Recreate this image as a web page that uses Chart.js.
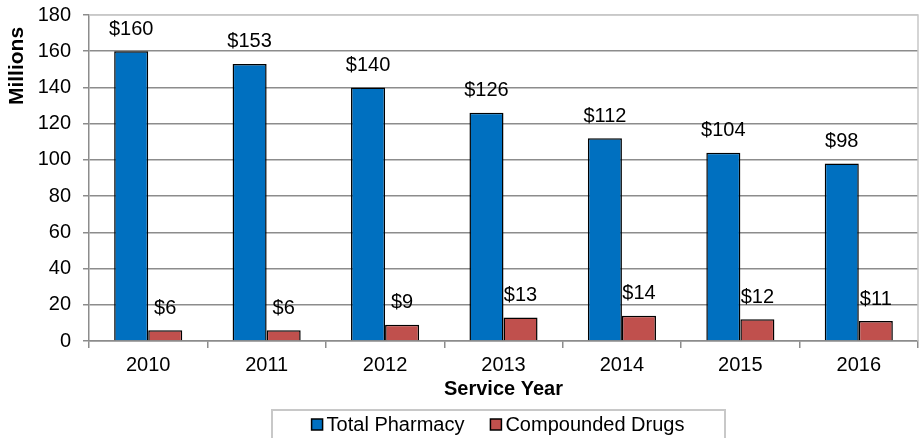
<!DOCTYPE html>
<html>
<head>
<meta charset="utf-8">
<title>Pharmacy spend by service year</title>
<script src="https://cdn.jsdelivr.net/npm/chart.js@4.4.1/dist/chart.umd.min.js"></script>
<style>
  html, body { margin: 0; padding: 0; background: #fff; }
  #wrap { width: 922px; height: 438px; }
</style>
</head>
<body>
<div id="wrap"><canvas id="chart" width="922" height="438"></canvas></div>
<script>
const years = ["2010", "2011", "2012", "2013", "2014", "2015", "2016"];
const totalPharmacy = [160, 153, 140, 126, 112, 104, 98];
const compoundedDrugs = [6, 6, 9, 13, 14, 12, 11];
const yTicks = [0, 20, 40, 60, 80, 100, 120, 140, 160, 180];

const FONT = "'Liberation Sans', Arial, sans-serif";
const GRID = "#8c8c8c";
const FRAME = "#c8c8c8";

// dollar labels over every bar
const barLabels = {
  id: "barLabels",
  afterDatasetsDraw(chart) {
    const ctx = chart.ctx;
    ctx.save();
    ctx.font = "20px " + FONT;
    ctx.fillStyle = "#000";
    ctx.textAlign = "center";
    ctx.textBaseline = "alphabetic";
    chart.data.datasets.forEach((ds, i) => {
      chart.getDatasetMeta(i).data.forEach((bar, j) => {
        ctx.fillText("$" + ds.data[j], bar.x, bar.y - 16.5);
      });
    });
    ctx.restore();
  }
};

// plot frame (top/right), y title and boxed legend
const decorations = {
  id: "decorations",
  afterDraw(chart) {
    const ctx = chart.ctx;
    const a = chart.chartArea;
    ctx.save();

    ctx.strokeStyle = FRAME;
    ctx.lineWidth = 1.5;
    ctx.beginPath();
    ctx.moveTo(a.left, a.top);
    ctx.lineTo(a.right, a.top);
    ctx.lineTo(a.right, a.bottom);
    ctx.stroke();

    ctx.save();
    ctx.translate(17, 66);
    ctx.rotate(-Math.PI / 2);
    ctx.font = "bold 21px " + FONT;
    ctx.fillStyle = "#000";
    ctx.textAlign = "center";
    ctx.textBaseline = "middle";
    ctx.fillText("Millions", 0, 0);
    ctx.restore();

    // legend
    ctx.strokeStyle = FRAME;
    ctx.lineWidth = 2;
    ctx.strokeRect(272, 410, 453, 40);

    ctx.font = "20px " + FONT;
    ctx.textBaseline = "alphabetic";
    ctx.textAlign = "left";
    const box = 11, gap = 4, spacing = 26;
    const items = chart.data.datasets.map(ds => ({
      label: ds.label, color: ds.backgroundColor,
      w: box + gap + ctx.measureText(ds.label).width
    }));
    const total = items.reduce((s, it) => s + it.w, 0) + spacing * (items.length - 1);
    let x = 498 - total / 2;
    items.forEach(it => {
      ctx.fillStyle = it.color;
      ctx.fillRect(x, 419, box, box);
      ctx.strokeStyle = "#000";
      ctx.lineWidth = 1.5;
      ctx.strokeRect(x, 419, box, box);
      ctx.fillStyle = "#000";
      ctx.fillText(it.label, x + box + gap, 431);
      x += it.w + spacing;
    });

    ctx.restore();
  }
};

new Chart(document.getElementById("chart"), {
  type: "bar",
  data: {
    labels: years,
    datasets: [
      {
        label: "Total Pharmacy",
        data: totalPharmacy,
        backgroundColor: "#0070C0",
        borderColor: "#000",
        borderWidth: 1.5,
        borderSkipped: "bottom"
      },
      {
        label: "Compounded Drugs",
        data: compoundedDrugs,
        backgroundColor: "#C0504D",
        borderColor: "#000",
        borderWidth: 1.5,
        borderSkipped: "bottom"
      }
    ]
  },
  options: {
    responsive: false,
    animation: false,
    events: [],
    categoryPercentage: 0.575,
    barPercentage: 1,
    layout: { padding: { top: 15, right: 4, bottom: 37, left: 0 } },
    plugins: {
      legend: { display: false },
      tooltip: { enabled: false }
    },
    scales: {
      x: {
        offset: true,
        grid: {
          offset: true,
          drawOnChartArea: false,
          drawTicks: true,
          tickLength: 7,
          tickColor: GRID,
          lineWidth: 1.5
        },
        border: { color: GRID, width: 1.5 },
        ticks: {
          font: { family: FONT, size: 20 },
          color: "#000",
          padding: 5,
          maxRotation: 0
        },
        title: {
          display: true,
          text: "Service Year",
          font: { family: FONT, size: 20, weight: "bold" },
          color: "#000",
          padding: { top: 0, bottom: 0 }
        },
        afterFit(scale) {
          scale.height = 60;
          scale.paddingLeft = 0;
          scale.paddingRight = 0;
        }
      },
      y: {
        min: 0,
        max: 180,
        afterBuildTicks(scale) { scale.ticks = yTicks.map(v => ({ value: v })); },
        grid: {
          color: c => (c.tick && c.tick.value === 180 ? FRAME : GRID),
          lineWidth: 1.5,
          tickLength: 6,
          tickColor: GRID
        },
        border: { color: GRID, width: 1.5 },
        ticks: {
          font: { family: FONT, size: 20 },
          color: "#000",
          padding: 12
        },
        afterFit(scale) {
          scale.width = 89;
          scale.paddingTop = 0;
          scale.paddingBottom = 0;
        }
      }
    }
  },
  plugins: [barLabels, decorations]
});
</script>
</body>
</html>
